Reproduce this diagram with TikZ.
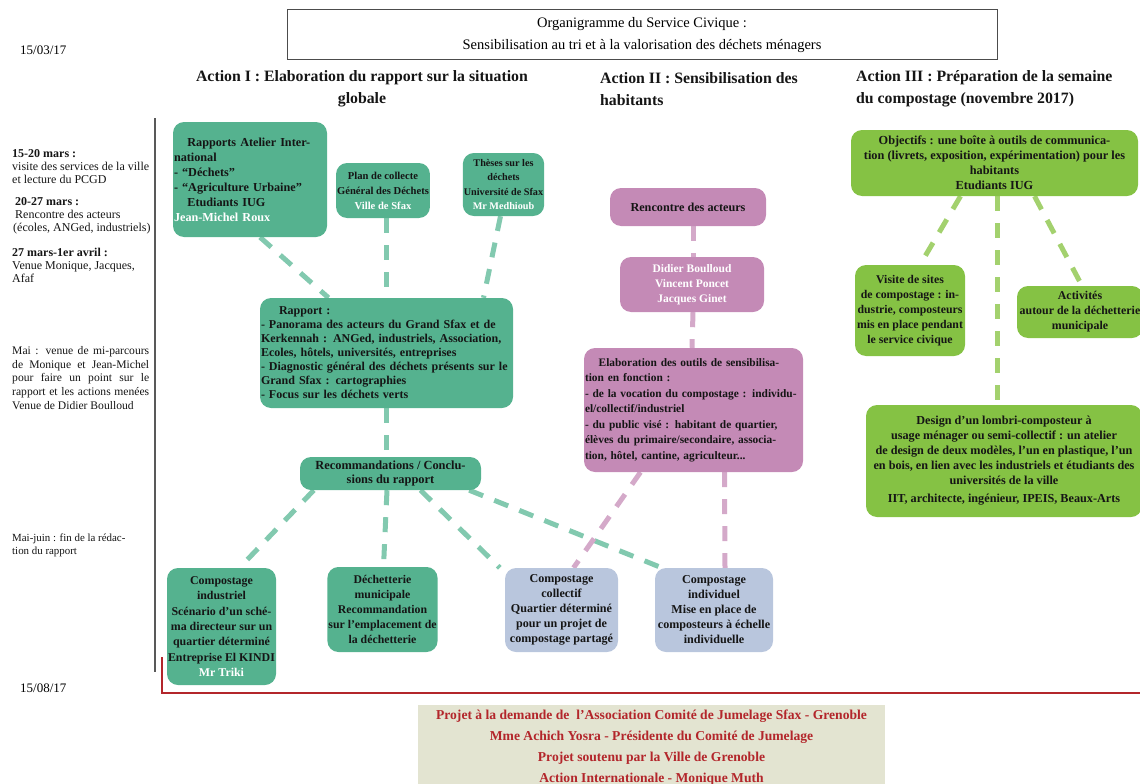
\documentclass[tikz,border=0pt]{standalone}
\usepackage{fontspec}
\setmainfont{Liberation Serif}
\usetikzlibrary{backgrounds}
\definecolor{tealF}{HTML}{55B28F}
\definecolor{tealC}{HTML}{82C9AF}
\definecolor{limeF}{HTML}{85C244}
\definecolor{limeC}{HTML}{A3D16E}
\definecolor{pinkF}{HTML}{C48AB6}
\definecolor{pinkC}{HTML}{D4A9C9}
\definecolor{blueF}{HTML}{B9C6DD}
\definecolor{beigeF}{HTML}{E3E4D1}
\definecolor{redT}{HTML}{B3262B}
\definecolor{inkT}{HTML}{151515}
\newcommand\nf{\fontsize{12.2}{15}\selectfont\bfseries}
\newcommand\wt[1]{\textcolor{white}{#1}}
\newcommand\jl[2]{\makebox[#1][s]{#2}}
\tikzset{
  box/.style={rounded corners=11pt, inner sep=1pt, align=center, font=\nf, text=inkT},
  tbox/.style={box, fill=tealF},
  lbox/.style={box, fill=limeF},
  pbox/.style={box, fill=pinkF},
  bbox/.style={box, fill=blueF},
  conn/.style={line width=5pt, dash pattern=on 15pt off 12pt},
  tconn/.style={conn, draw=tealC},
  lconn/.style={conn, draw=limeC},
  pconn/.style={conn, draw=pinkC},
  hdr/.style={inner sep=0pt, font=\fontsize{15.8}{22}\selectfont\bfseries, text=inkT},
  side/.style={inner sep=0pt, anchor=north west, align=left, font=\fontsize{12}{13}\selectfont, text=inkT},
}
\begin{document}
\begin{tikzpicture}[x=1pt,y=-1pt]
\useasboundingbox (0,0) rectangle (1140,784);
\clip (0,0) rectangle (1140,784);

% title
\node[draw=black!70, line width=1pt, minimum width=710pt, minimum height=50pt, align=center,
  font=\fontsize{14.5}{22}\selectfont, inner sep=0pt] (title) at (642,35)
  {Organigramme du Service Civique :\\Sensibilisation au tri et à la valorisation des déchets ménagers};

% dates
\node[anchor=west, inner sep=0pt, font=\fontsize{13}{15}\selectfont] (d1) at (20,50) {15/03/17};
\node[anchor=west, inner sep=0pt, font=\fontsize{13}{15}\selectfont] (d2) at (20,688) {15/08/17};

% headers
\node[hdr, align=center] (a1) at (362,89) {Action I : Elaboration du rapport sur la situation\\globale};
\node[hdr, align=left, anchor=west] (a2) at (600,89) {Action II : Sensibilisation des\\habitants};
\node[hdr, align=left, anchor=west] (a3) at (856,89) {Action III : Préparation de la semaine\\du compostage (novembre 2017)};

% timeline
\coordinate (tl1) at (155,118);
\coordinate (tl2) at (155,672);
\draw[black!65, line width=1.5pt] (tl1) -- (tl2);
\coordinate (r1) at (162,657);
\coordinate (r2) at (162,693);
\coordinate (r3) at (1140,693);
\draw[redT, line width=2.5pt] (r1) -- (r2) -- (r3);

\node[side] (s1) at (12,149) {\textbf{15-20 mars :}\\visite des services de la ville\\et lecture du PCGD};
\node[side] (s2) at (13,197) {\textbf{\,20-27 mars :}\\\,Rencontre des acteurs\\(écoles, ANGed, industriels)};
\node[side] (s3) at (12,248) {\textbf{27 mars-1er avril :}\\Venue Monique, Jacques,\\Afaf};
\node[side, font=\fontsize{11.6}{13.8}\selectfont] (s4) at (12,346) {\jl{137pt}{Mai : venue de mi-parcours}\\\jl{137pt}{de Monique et Jean-Michel}\\\jl{137pt}{pour faire un point sur le}\\\jl{137pt}{rapport et les actions menées}\\Venue de Didier Boulloud};
\node[side, font=\fontsize{10.9}{13}\selectfont] (s5) at (12,534) {Mai-juin : fin de la rédac-\\tion du rapport};

% Action I nodes
\node[tbox, minimum height=115pt, text width=152pt, align=left] (atelier) at (250,179.5)
  {\hspace*{1.1em}\jl{136pt}{Rapports Atelier Inter-}\\national\\- “Déchets”\\- “Agriculture Urbaine”\\\hspace*{1.1em}Etudiants IUG\\\wt{Jean-Michel Roux}};
\node[tbox, minimum width=92pt, minimum height=55pt, font=\fontsize{10.6}{15}\selectfont\bfseries] (plan) at (383,190.5)
  {Plan de collecte\\Général des Déchets\\\wt{Ville de Sfax}};
\node[tbox, minimum width=80pt, minimum height=63pt, font=\fontsize{10.2}{14.5}\selectfont\bfseries] (theses) at (503.5,184.5)
  {Thèses sur les\\déchets\\Université de Sfax\\\wt{Mr Medhioub}};
\node[tbox, minimum height=110pt, text width=251pt, align=left, font=\fontsize{12}{14}\selectfont\bfseries] (rapport) at (386.5,353)
  {\hspace*{1.5em}Rapport :\\- Panorama des acteurs du Grand Sfax et de\\Kerkennah : ANGed, industriels, Association,\\Ecoles, hôtels, universités, entreprises\\- Diagnostic général des déchets présents sur le\\Grand Sfax : cartographies\\- Focus sur les déchets verts};
\node[tbox, minimum width=181pt, minimum height=33pt, font=\fontsize{12.4}{13.5}\selectfont\bfseries] (recomm) at (390.5,473.5)
  {Recommandations / Conclu-\\sions du rapport};
\node[tbox, minimum width=109pt, minimum height=117pt, font=\fontsize{11.9}{15.3}\selectfont\bfseries] (compind) at (221.5,626.5)
  {Compostage\\industriel\\Scénario d'un sché-\\ma directeur sur un\\quartier déterminé\\Entreprise El KINDI\\\wt{Mr Triki}};
\node[tbox, minimum width=109pt, minimum height=85pt, font=\fontsize{11.8}{15}\selectfont\bfseries] (dech) at (382.5,609.5)
  {Déchetterie\\municipale\\Recommandation\\sur l'emplacement de\\la déchetterie};
\node[bbox, minimum width=113pt, minimum height=84pt, font=\fontsize{12.1}{15}\selectfont\bfseries] (compcoll) at (561.5,610)
  {Compostage\\collectif\\Quartier déterminé\\pour un projet de\\compostage partagé};
\node[bbox, minimum width=118pt, minimum height=84pt, font=\fontsize{12.1}{15}\selectfont\bfseries] (compindiv) at (714,610)
  {Compostage\\individuel\\Mise en place de\\composteurs à échelle\\individuelle};

% Action II nodes
\node[pbox, minimum width=156pt, minimum height=38pt] (rencontre) at (688,207) {Rencontre des acteurs};
\node[pbox, minimum width=144pt, minimum height=55pt, font=\fontsize{11.5}{15}\selectfont\bfseries] (didier) at (692,284.5)
  {\wt{Didier Boulloud}\\\wt{Vincent Poncet}\\\wt{Jacques Ginet}};
\node[pbox, minimum height=124pt, text width=217pt, align=left, font=\fontsize{11.4}{15.5}\selectfont\bfseries] (elab) at (693.5,410)
  {\hspace*{1.2em}\jl{199pt}{Elaboration des outils de sensibilisa-}\\tion en fonction :\\\jl{217pt}{- de la vocation du compostage : individu-}\\el/collectif/industriel\\\jl{217pt}{- du public visé : habitant de quartier,}\\\jl{217pt}{élèves du primaire/secondaire, associa-}\\tion, hôtel, cantine, agriculteur...};

% Action III nodes
\node[lbox, minimum width=287pt, minimum height=66pt, font=\fontsize{12.3}{15}\selectfont\bfseries] (objectifs) at (994.5,163)
  {Objectifs : une boîte à outils de communica-\\tion (livrets, exposition, expérimentation) pour les\\habitants\\Etudiants IUG};
\node[lbox, minimum width=110pt, minimum height=91pt, font=\fontsize{11.8}{15}\selectfont\bfseries] (visite) at (910,310.5)
  {Visite de sites\\de compostage : in-\\dustrie, composteurs\\mis en place pendant\\le service civique};
\node[lbox, minimum width=126pt, minimum height=52pt, font=\fontsize{11.9}{15}\selectfont\bfseries] (activites) at (1080,312)
  {Activités\\autour de la déchetterie\\municipale};
\node[lbox, minimum width=276pt, minimum height=112pt, font=\fontsize{12.2}{15}\selectfont\bfseries] (design) at (1004,461)
  {Design d'un lombri-composteur à\\usage ménager ou semi-collectif : un atelier\\de design de deux modèles, l'un en plastique, l'un\\en bois, en lien avec les industriels et étudiants des\\universités de la ville\\[3pt]IIT, architecte, ingénieur, IPEIS, Beaux-Arts};

% bottom box
\node[fill=beigeF, minimum width=467pt, minimum height=90pt, anchor=north, inner sep=0pt] (bottom) at (651.5,705) {};
\node[align=center, inner sep=0pt, text=redT, font=\fontsize{13.6}{21}\selectfont\bfseries] (btext) at (651.5,748)
  {Projet à la demande de \ l'Association Comité de Jumelage Sfax - Grenoble\\Mme Achich Yosra - Présidente du Comité de Jumelage\\Projet soutenu par la Ville de Grenoble\\Action Internationale - Monique Muth};

% connectors
\begin{pgfonlayer}{background}
\draw[tconn] ([xshift=10pt]atelier.south) -- ([xshift=-58pt]rapport.north);
\draw[tconn] (rapport.north |- plan.south) -- (rapport.north);
\draw[tconn] ([xshift=-3pt]theses.south) -- ([xshift=97pt]rapport.north);
\draw[tconn] (rapport.south) -- (rapport.south |- recomm.north);
\draw[tconn] ([xshift=14pt]recomm.south west) -- ([xshift=18pt]compind.north);
\draw[tconn] ([xshift=-3.5pt]recomm.south) -- ([xshift=1pt]dech.north);
\draw[tconn] ([xshift=30pt]recomm.south) -- ([xshift=-5pt]compcoll.north west);
\draw[tconn] ([xshift=-12pt]recomm.south east) -- ([xshift=7pt]compindiv.north west);
\draw[pconn] ([xshift=5pt]rencontre.south) -- ([xshift=1pt]didier.north);
\draw[pconn] ([xshift=1pt]didier.south) -- (didier.south |- elab.north);
\draw[pconn] ([xshift=-53pt]elab.south) -- ([xshift=12pt]compcoll.north);
\draw[pconn] ([xshift=31pt]elab.south) -- ([xshift=11pt]compindiv.north);
\draw[lconn] ([xshift=-34pt]objectifs.south) -- ([xshift=10pt]visite.north);
\draw[lconn] ([xshift=2.5pt]objectifs.south) -- ([xshift=-7pt]design.north);
\draw[lconn] ([xshift=40pt]objectifs.south) -- ([xshift=2pt]activites.north);
\end{pgfonlayer}
\end{tikzpicture}
\end{document}
